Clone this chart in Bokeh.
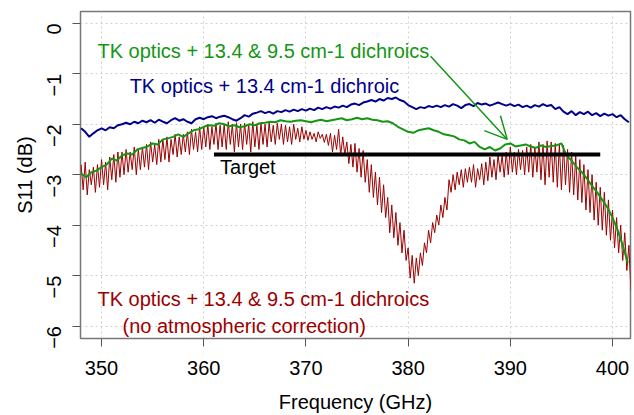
import math
import numpy as np
from bokeh.plotting import figure
from bokeh.models import Range1d, FixedTicker, Arrow, OpenHead, Label
from bokeh.embed import file_html
from bokeh.resources import INLINE

# ---------------- data ----------------
# red: TK optics + 13.4 & 9.5 cm-1 dichroics, no atmospheric correction (0.2 GHz grid from 348 GHz)
red_start, red_step = 348.0, 0.2
red_s11 = [
    -2.80, -3.30, -2.75, -3.40, -2.90, -3.20, -2.85, -3.35, -2.80, -3.25,
    -2.70, -3.20, -2.75, -3.30, -2.65, -3.10, -2.60, -3.15, -2.55, -3.05,
    -2.55, -3.00, -2.50, -2.95, -2.55, -2.90, -2.45, -3.00, -2.50, -2.90,
    -2.45, -2.85, -2.40, -2.90, -2.35, -2.75, -2.40, -2.80, -2.30, -2.75,
    -2.30, -2.70, -2.25, -2.75, -2.30, -2.60, -2.20, -2.65, -2.25, -2.60,
    -2.20, -2.55, -2.15, -2.60, -2.10, -2.50, -2.15, -2.55, -2.05, -2.50,
    -2.05, -2.45, -2.00, -2.50, -2.05, -2.40, -1.98, -2.50, -2.02, -2.45,
    -2.00, -2.50, -1.95, -2.40, -2.00, -2.55, -1.97, -2.45, -2.00, -2.50,
    -1.98, -2.40, -2.00, -2.55, -1.95, -2.45, -2.02, -2.50, -1.98, -2.40,
    -2.00, -2.45, -1.97, -2.35, -2.02, -2.40, -1.98, -2.30, -2.00, -2.40,
    -2.02, -2.35, -2.05, -2.40, -2.00, -2.30, -2.08, -2.35, -2.05, -2.30,
    -2.12, -2.32, -2.15, -2.30, -2.18, -2.35, -2.15, -2.28, -2.20, -2.36,
    -2.20, -2.42, -2.18, -2.55, -2.22, -2.50, -2.10, -2.62, -2.25, -2.60,
    -2.35, -2.78, -2.40, -2.85, -2.38, -2.95, -2.48, -3.05, -2.52, -3.15,
    -2.70, -3.35, -2.80, -3.45, -2.95, -3.60, -3.05, -3.75, -3.20, -3.85,
    -3.45, -4.15, -3.60, -4.25, -3.75, -4.40, -3.95, -4.55, -4.10, -4.70,
    -4.45, -5.05, -4.60, -5.15, -4.65, -5.00, -4.55, -4.80, -4.35, -4.55,
    -4.10, -4.35, -3.95, -4.15, -3.80, -4.00, -3.60, -3.85, -3.45, -3.70,
    -3.10, -3.35, -3.00, -3.30, -2.95, -3.20, -2.90, -3.25, -2.88, -3.15,
    -2.85, -3.15, -2.80, -3.25, -2.88, -3.10, -2.78, -3.20, -2.75, -3.12,
    -2.65, -3.05, -2.70, -3.10, -2.60, -2.95, -2.62, -3.05, -2.55, -3.00,
    -2.45, -2.95, -2.55, -3.00, -2.50, -2.90, -2.52, -3.00, -2.45, -2.95,
    -2.40, -3.05, -2.45, -2.95, -2.35, -3.10, -2.40, -3.20, -2.33, -3.05,
    -2.35, -3.15, -2.38, -3.25, -2.40, -3.30, -2.42, -3.20, -2.50, -3.35,
    -2.55, -3.40, -2.62, -3.50, -2.70, -3.55, -2.80, -3.70, -2.90, -3.75,
    -3.00, -3.90, -3.15, -4.00, -3.25, -4.10, -3.35, -4.20, -3.50, -4.30,
    -3.70, -4.45, -3.85, -4.55, -4.00, -4.70, -4.15, -4.90, -4.40, -5.30,
]

# green: TK optics + 13.4 & 9.5 cm-1 dichroics (0.5 GHz grid from 348 GHz)
green_start, green_step = 348.0, 0.5
green_s11 = [
    -2.98, -3.05, -2.95, -2.92, -2.85, -2.80, -2.68, -2.72, -2.62, -2.58,
    -2.60, -2.50, -2.47, -2.44, -2.38, -2.40, -2.30, -2.28, -2.25, -2.20,
    -2.25, -2.18, -2.12, -2.10, -2.05, -2.02, -2.03, -1.98, -2.00, -2.04,
    -2.02, -2.06, -2.04, -2.00, -2.02, -1.98, -1.97, -1.95, -1.96, -1.92,
    -1.94, -1.95, -1.93, -1.92, -1.94, -1.96, -1.93, -1.91, -1.94, -1.92,
    -1.90, -1.88, -1.92, -1.90, -1.87, -1.90, -1.88, -1.91, -1.92, -1.95,
    -1.94, -1.98, -2.05, -2.10, -2.15, -2.17, -2.12, -2.10, -2.08, -2.12,
    -2.15, -2.20, -2.22, -2.24, -2.30, -2.32, -2.38, -2.35, -2.45, -2.50,
    -2.45, -2.52, -2.48, -2.40, -2.38, -2.44, -2.42, -2.40, -2.44, -2.47,
    -2.42, -2.45, -2.43, -2.42, -2.38, -2.62, -2.72, -2.85, -2.95, -3.08,
    -3.22, -3.35, -3.50, -3.65, -3.85, -4.10, -4.40, -4.75,
]

# blue: TK optics + 13.4 cm-1 dichroic (0.4 GHz grid from 348 GHz)
blue_start, blue_step = 348.0, 0.4
blue_s11 = [
    -2.08, -2.15, -2.25, -2.18, -2.12, -2.08, -2.12, -2.06, -2.08, -2.02,
    -2.00, -1.97, -2.00, -1.95, -1.98, -1.93, -1.96, -1.92, -1.97, -1.91,
    -1.95, -1.98, -1.92, -1.88, -1.93, -1.90, -1.95, -1.98, -1.90, -1.87,
    -1.90, -1.86, -1.84, -1.88, -1.85, -1.83, -1.86, -1.90, -1.93, -1.88,
    -1.82, -1.85, -1.79, -1.77, -1.74, -1.78, -1.75, -1.79, -1.74, -1.76,
    -1.72, -1.75, -1.71, -1.74, -1.70, -1.73, -1.69, -1.72, -1.67, -1.70,
    -1.66, -1.69, -1.65, -1.67, -1.63, -1.66, -1.61, -1.59, -1.62, -1.57,
    -1.55, -1.52, -1.55, -1.50, -1.53, -1.48, -1.50, -1.47, -1.52, -1.55,
    -1.62, -1.66, -1.70, -1.66, -1.68, -1.64, -1.66, -1.63, -1.66, -1.62,
    -1.65, -1.60, -1.63, -1.68, -1.62, -1.60, -1.64, -1.58, -1.61, -1.59,
    -1.63, -1.60, -1.57, -1.60, -1.63, -1.60, -1.64, -1.61, -1.66, -1.63,
    -1.67, -1.62, -1.65, -1.60, -1.64, -1.62, -1.70, -1.66, -1.75, -1.80,
    -1.74, -1.82, -1.76, -1.80, -1.75, -1.82, -1.78, -1.84, -1.79, -1.83,
    -1.80, -1.86, -1.82, -1.90, -1.96,
]

target_db = -2.6
target_from, target_to = 361.0, 398.8

x_ticks = [350, 360, 370, 380, 390, 400]
y_ticks = [-6, -5, -4, -3, -2, -1, 0]

red_f = red_start + red_step * np.arange(len(red_s11))
green_f = green_start + green_step * np.arange(len(green_s11))
blue_f = blue_start + blue_step * np.arange(len(blue_s11))

RED = "#9b0000"
GREEN = "#149614"
BLUE = "#00008b"
FONT = "Liberation Sans"
FS = "20px"

p = figure(width=634, height=415, output_backend="svg", toolbar_location=None,
           x_range=Range1d(347.94, 401.76), y_range=Range1d(-6.247, 0.235),
           min_border_left=80, min_border_right=4, min_border_top=11, min_border_bottom=65)

p.background_fill_color = "white"
p.border_fill_color = "white"
p.outline_line_color = "#777777"
p.outline_line_width = 1.5

for ax in (p.xaxis[0], p.yaxis[0]):
    ax.axis_line_color = None
    ax.major_tick_line_color = "#555555"
    ax.major_tick_out = 8
    ax.major_tick_in = 0
    ax.minor_tick_line_color = None
    ax.major_label_text_font = FONT
    ax.major_label_text_font_size = FS
    ax.major_label_text_color = "black"
    ax.axis_label_text_font = FONT
    ax.axis_label_text_font_size = FS
    ax.axis_label_text_font_style = "normal"
    ax.axis_label_text_color = "black"

p.xaxis.ticker = FixedTicker(ticks=x_ticks)
p.yaxis.ticker = FixedTicker(ticks=y_ticks)
p.xaxis.axis_label = "Frequency (GHz)"
p.yaxis.axis_label = "S11 (dB)"
p.yaxis.major_label_orientation = math.pi / 2
p.xaxis.major_label_standoff = 14
p.yaxis.major_label_standoff = 18
p.xaxis.axis_label_standoff = 13
p.yaxis.axis_label_standoff = 2

for g in (p.xgrid[0], p.ygrid[0]):
    g.grid_line_color = "#d0d0d0"
    g.grid_line_dash = "2 3"
    g.grid_line_width = 1

p.line(red_f, red_s11, line_color=RED, line_width=1)
p.line(green_f, green_s11, line_color=GREEN, line_width=2)
p.line(blue_f, blue_s11, line_color=BLUE, line_width=2)
p.line([target_from, target_to], [target_db, target_db], line_color="black", line_width=4)

def lab(x, y, text, color):
    p.add_layout(Label(x=x, y=y, text=text, text_color=color, text_font=FONT,
                       text_font_size=FS, text_align="left", text_baseline="middle"))

lab(349.6, -0.55, "TK optics + 13.4 & 9.5 cm-1 dichroics", GREEN)
lab(352.75, -1.24, "TK optics + 13.4 cm-1 dichroic", BLUE)
lab(361.6, -2.84, "Target", "black")
lab(349.6, -5.46, "TK optics + 13.4 & 9.5 cm-1 dichroics", RED)
lab(352.05, -6.0, "(no atmospheric correction)", RED)

p.add_layout(Arrow(end=OpenHead(size=22, line_color=GREEN, line_width=1.5),
                   x_start=382.2, y_start=-0.65, x_end=389.7, y_end=-2.30,
                   line_color=GREEN, line_width=1.5))

open("out.html", "w").write(file_html(p, INLINE))
